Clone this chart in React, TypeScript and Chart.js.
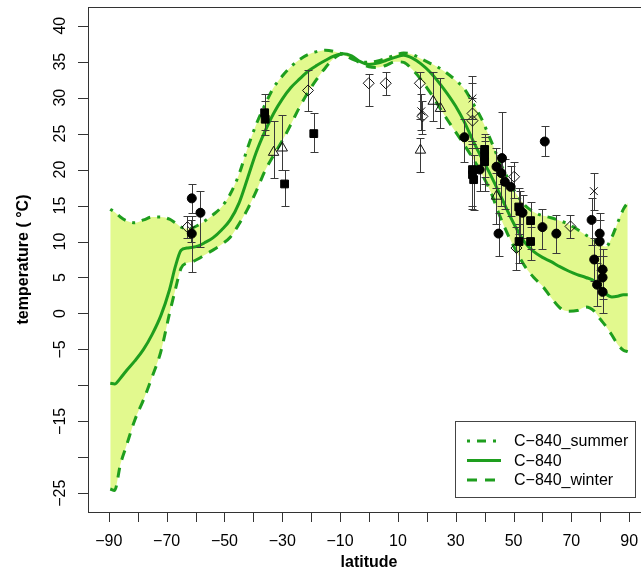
import React, { useEffect, useRef } from "react";
import { Chart, registerables } from "chart.js";

Chart.register(...registerables);

// ---- model curves ----
const latitude = [-89.5, -88, -86, -84, -81, -78, -75, -72, -69, -67, -65, -63, -61, -59, -57, -54, -51, -48, -45, -42, -39, -36, -33, -30, -27, -24, -21, -18, -15, -12, -9, -6, -3, 0, 3, 6, 9, 12, 15, 18, 21, 24, 27, 30, 33, 36, 39, 42, 45, 48, 51, 54, 57, 60, 63, 66, 69, 72, 75, 78, 80, 82, 84, 86, 88, 89.5];
const tempSummer = [14.5, 14.1, 13.4, 12.9, 12.6, 13.0, 13.4, 13.4, 13.1, 12.6, 12.0, 11.8, 11.9, 12.3, 12.8, 13.7, 14.8, 16.6, 19.3, 23.0, 26.3, 29.0, 31.4, 33.0, 34.3, 35.3, 36.0, 36.4, 36.6, 36.4, 36.0, 35.4, 35.0, 34.9, 35.1, 35.5, 35.9, 36.2, 36.0, 35.4, 34.8, 34.2, 33.4, 32.4, 31.2, 29.2, 27.0, 24.2, 21.3, 18.8, 16.6, 15.0, 14.1, 13.6, 13.3, 12.9, 12.4, 11.7, 10.9, 10.2, 9.6, 9.3, 10.6, 12.6, 14.5, 15.4];
const tempMean = [-9.7, -9.8, -9.0, -8.0, -6.6, -5.0, -2.9, -0.3, 3.3, 6.5, 8.8, 9.1, 9.2, 9.4, 9.8, 10.5, 11.6, 13.0, 15.3, 18.8, 22.4, 25.3, 27.8, 29.8, 31.4, 32.6, 33.7, 34.5, 35.2, 35.8, 36.1, 35.8, 35.0, 34.6, 34.8, 35.2, 35.6, 35.9, 35.5, 34.7, 33.6, 32.2, 30.6, 28.8, 26.6, 24.0, 21.6, 19.3, 16.8, 14.2, 11.8, 9.8, 8.6, 7.8, 7.2, 6.5, 5.9, 5.4, 5.0, 4.5, 3.5, 2.7, 2.3, 2.4, 2.6, 2.6];
const tempWinter = [-24.4, -24.6, -21.0, -18.5, -14.8, -12.0, -8.8, -5.3, 0.0, 3.3, 6.3, 7.0, 7.2, 7.6, 8.1, 8.8, 9.6, 10.6, 12.4, 14.5, 17.0, 19.8, 22.0, 24.0, 26.3, 28.7, 30.8, 32.6, 34.2, 35.5, 36.1, 35.6, 34.8, 34.3, 34.2, 34.5, 35.0, 34.9, 33.9, 32.5, 30.8, 28.9, 27.0, 25.2, 23.4, 21.5, 19.4, 17.0, 13.8, 11.0, 8.6, 6.5, 5.0, 3.8, 2.2, 0.8, 0.3, 0.4, 0.9, 0.3, -0.8, -1.8, -3.0, -4.3, -5.1, -5.3];

// ---- proxy data (filled circles) ----
const circleLat = [-61.3, -61.3, -58.3, 33.0, 38.3, 44.1, 46.0, 45.8, 47.0, 49.0, 44.8, 53.1, 60.0, 64.8, 60.8, 77.0, 79.8, 79.8, 77.9, 80.8, 80.8, 78.9, 80.8];
const circleTemp = [16.0, 11.1, 14.0, 24.5, 20.0, 20.4, 21.6, 19.5, 18.3, 17.6, 11.1, 14.0, 12.0, 11.1, 23.9, 13.0, 11.1, 10.0, 7.5, 6.1, 5.0, 4.0, 3.0];
const circleLow = [14.0, 5.8, 9.3, 21.0, 17.0, 17.5, 18.0, 15.0, 14.5, 13.5, 8.0, 10.5, 9.0, 8.4, 21.9, 9.5, 8.0, 6.0, 4.5, 3.0, 2.0, 1.0, 0.0];
const circleHigh = [18.0, 13.5, 17.0, 27.0, 23.0, 23.0, 28.0, 22.0, 21.5, 20.5, 14.0, 16.5, 14.5, 13.7, 26.0, 16.0, 14.0, 13.0, 10.5, 9.0, 8.0, 7.0, 6.0];

// ---- filled squares ----
const squareLat = [-36.1, -35.9, -29.2, -19.1, 35.8, 35.8, 36.2, 40.0, 40.0, 40.0, 51.8, 52.2, 51.9, 55.9, 55.9];
const squareTemp = [27.9, 27.0, 18.0, 25.0, 20.0, 19.3, 18.6, 22.8, 21.8, 21.1, 14.8, 14.2, 10.0, 12.9, 10.0];
const squareLow = [25.5, 24.8, 15.0, 22.5, 15.0, 14.5, 14.4, 19.0, 18.0, 17.0, 11.0, 10.5, 7.0, 9.0, 7.5];
const squareHigh = [30.5, 29.5, 20.0, 27.9, 24.0, 23.0, 22.0, 25.0, 24.5, 24.0, 17.5, 17.0, 12.5, 15.5, 12.0];

// ---- open diamonds ----
const diamondLat = [-62.8, -21.1, -0.1, 5.8, 17.6, 18.5, 35.8, 35.8, 50.2, 51.0, 69.7];
const diamondTemp = [12.0, 31.0, 32.0, 32.0, 32.0, 27.4, 27.8, 26.8, 19.0, 9.1, 12.1];
const diamondLow = [10.5, 28.1, 28.8, 30.4, 27.0, 25.0, 24.0, 23.5, 16.0, 6.0, 10.5];
const diamondHigh = [13.5, 33.9, 33.3, 33.6, 33.6, 29.5, 32.0, 30.0, 21.0, 12.0, 13.7];

// ---- open triangles ----
const triangleLat = [-33.0, -30.0, 17.8, 22.2, 24.7, 44.1];
const triangleTemp = [22.4, 23.0, 22.7, 29.5, 28.5, 16.3];
const triangleLow = [18.8, 20.0, 19.7, 26.7, 25.8, 12.5];
const triangleHigh = [26.7, 27.6, 24.4, 33.6, 32.7, 19.5];

// ---- crosses ----
const crossLat = [-61.5, 18.1, 35.8, 77.8];
const crossTemp = [11.6, 28.1, 29.9, 17.0];
const crossLow = [10.0, 25.5, 27.0, 14.4];
const crossHigh = [13.0, 30.5, 33.0, 19.5];

// ---- axes ----
const xTickValues = [-90, -80, -70, -60, -50, -40, -30, -20, -10, 0, 10, 20, 30, 40, 50, 60, 70, 80, 90];
const xLabelValues = [-90, -70, -50, -30, -10, 10, 30, 50, 70, 90];
const yTickValues = [40, 35, 30, 25, 20, 15, 10, 5, 0, -5, -10, -15, -20, -25];
const yLabelValues = [40, 35, 30, 25, 20, 15, 10, 5, 0, -5, -15, -25];

const GREEN = "#1e9e1e";
const BAND = "#e2f98e";
const FONT = "'Liberation Sans', Arial, Helvetica, sans-serif";

const fmt = (v: number) => (v < 0 ? "\u2212" + Math.abs(v) : String(v));

const pts = (xs: number[], ys: number[]) => xs.map((x, i) => ({ x, y: ys[i] }));

const errorBarPlugin = {
  id: "errorBars",
  beforeDatasetsDraw(chart: any) {
    chart.$errDrawn = false;
  },
  beforeDatasetDraw(chart: any, args: any) {
    const ds = chart.data.datasets[args.index];
    if (chart.$errDrawn || !ds.errLow) return;
    chart.$errDrawn = true;
    const { ctx } = chart;
    const x = chart.scales.x;
    const y = chart.scales.y;
    ctx.save();
    ctx.strokeStyle = "#3a3a3a";
    ctx.lineWidth = 1;
    ctx.beginPath();
    chart.data.datasets.forEach((d: any) => {
      if (!d.errLow) return;
      d.data.forEach((p: any, i: number) => {
        const px = Math.round(x.getPixelForValue(p.x)) + 0.5;
        const y1 = Math.round(y.getPixelForValue(d.errLow[i])) + 0.5;
        const y2 = Math.round(y.getPixelForValue(d.errHigh[i])) + 0.5;
        ctx.moveTo(px, y1);
        ctx.lineTo(px, y2);
        ctx.moveTo(px - 4, y1);
        ctx.lineTo(px + 4, y1);
        ctx.moveTo(px - 4, y2);
        ctx.lineTo(px + 4, y2);
      });
    });
    ctx.stroke();
    ctx.restore();
  },
};

const axesPlugin = {
  id: "rAxes",
  afterDraw(chart: any) {
    const { ctx, chartArea: a } = chart;
    const x = chart.scales.x;
    const y = chart.scales.y;
    ctx.save();
    ctx.strokeStyle = "#333";
    ctx.lineWidth = 1;
    ctx.strokeRect(Math.round(a.left) + 0.5, Math.round(a.top) + 0.5, Math.round(a.right - a.left), Math.round(a.bottom - a.top));
    ctx.beginPath();
    xTickValues.forEach((v) => {
      const px = Math.round(x.getPixelForValue(v)) + 0.5;
      ctx.moveTo(px, a.bottom);
      ctx.lineTo(px, a.bottom + 10);
    });
    yTickValues.forEach((v) => {
      const py = Math.round(y.getPixelForValue(v)) + 0.5;
      ctx.moveTo(a.left, py);
      ctx.lineTo(a.left - 10, py);
    });
    ctx.stroke();

    ctx.fillStyle = "#000";
    ctx.font = `16px ${FONT}`;
    ctx.textAlign = "center";
    ctx.textBaseline = "middle";
    xLabelValues.forEach((v) => {
      ctx.fillText(fmt(v), x.getPixelForValue(v), a.bottom + 30);
    });
    ctx.textBaseline = "alphabetic";
    yLabelValues.forEach((v) => {
      ctx.save();
      ctx.translate(a.left - 23, y.getPixelForValue(v));
      ctx.rotate(-Math.PI / 2);
      ctx.fillText(fmt(v), 0, 0);
      ctx.restore();
    });

    ctx.font = `bold 16px ${FONT}`;
    ctx.textBaseline = "middle";
    ctx.fillText("latitude", (a.left + a.right) / 2, a.bottom + 51);
    ctx.save();
    ctx.translate(28, (a.top + a.bottom) / 2);
    ctx.rotate(-Math.PI / 2);
    ctx.textBaseline = "alphabetic";
    ctx.fillText("temperature ( \u00B0C)", 0, 0);
    ctx.restore();

    // legend
    const lx = 455.5, ly = 421.5, lw = 180, lh = 76;
    ctx.fillStyle = "#fff";
    ctx.fillRect(lx, ly, lw, lh);
    ctx.strokeStyle = "#444";
    ctx.lineWidth = 1;
    ctx.strokeRect(lx, ly, lw, lh);
    const lineSets = chart.data.datasets.filter((d: any) => d.type === "line");
    lineSets.forEach((d: any, i: number) => {
      const ry = 441 + i * 19.5;
      ctx.save();
      ctx.strokeStyle = d.borderColor;
      ctx.lineWidth = d.borderWidth;
      ctx.lineCap = "butt";
      ctx.setLineDash(d.borderDash || []);
      ctx.beginPath();
      ctx.moveTo(467, ry);
      ctx.lineTo(501, ry);
      ctx.stroke();
      ctx.restore();
      ctx.fillStyle = "#000";
      ctx.font = `16px ${FONT}`;
      ctx.textAlign = "left";
      ctx.textBaseline = "middle";
      ctx.fillText(d.label, 514, ry + 1);
    });
    ctx.restore();
  },
};

export default function App() {
  const ref = useRef<HTMLCanvasElement>(null);
  useEffect(() => {
    if (!ref.current) return;
    const markerBase = { type: "scatter", showLine: false, borderColor: "#111", borderWidth: 1, order: 1 };
    const chart = new Chart(ref.current, {
      data: {
        datasets: [
          {
            type: "line",
            label: "C\u2212840_summer",
            data: pts(latitude, tempSummer),
            borderColor: GREEN,
            borderWidth: 3,
            borderDash: [3, 7, 9, 7],
            borderCapStyle: "butt",
            pointRadius: 0,
            cubicInterpolationMode: "monotone",
            fill: { target: 2, above: BAND, below: BAND },
            backgroundColor: BAND,
            order: 2,
          },
          {
            type: "line",
            label: "C\u2212840",
            data: pts(latitude, tempMean),
            borderColor: GREEN,
            borderWidth: 3,
            pointRadius: 0,
            cubicInterpolationMode: "monotone",
            fill: false,
            order: 2,
          },
          {
            type: "line",
            label: "C\u2212840_winter",
            data: pts(latitude, tempWinter),
            borderColor: GREEN,
            borderWidth: 3,
            borderDash: [10, 8],
            borderCapStyle: "butt",
            pointRadius: 0,
            cubicInterpolationMode: "monotone",
            fill: false,
            order: 2,
          },
          {
            ...markerBase,
            label: "circles",
            data: pts(circleLat, circleTemp),
            errLow: circleLow,
            errHigh: circleHigh,
            pointStyle: "circle",
            pointRadius: 4.5,
            backgroundColor: "#000",
            borderColor: "#000",
          },
          {
            ...markerBase,
            label: "squares",
            data: pts(squareLat, squareTemp),
            errLow: squareLow,
            errHigh: squareHigh,
            pointStyle: "rect",
            pointRadius: 5.5,
            backgroundColor: "#000",
            borderColor: "#000",
          },
          {
            ...markerBase,
            label: "diamonds",
            data: pts(diamondLat, diamondTemp),
            errLow: diamondLow,
            errHigh: diamondHigh,
            pointStyle: "rectRot",
            pointRadius: 5.5,
            backgroundColor: "rgba(0,0,0,0)",
          },
          {
            ...markerBase,
            label: "triangles",
            data: pts(triangleLat, triangleTemp),
            errLow: triangleLow,
            errHigh: triangleHigh,
            pointStyle: "triangle",
            pointRadius: 6,
            backgroundColor: "rgba(0,0,0,0)",
          },
          {
            ...markerBase,
            label: "crosses",
            data: pts(crossLat, crossTemp),
            errLow: crossLow,
            errHigh: crossHigh,
            pointStyle: "crossRot",
            pointRadius: 5.5,
            backgroundColor: "rgba(0,0,0,0)",
          },
        ],
      } as any,
      options: {
        animation: false,
        responsive: false,
        devicePixelRatio: 1,
        events: [],
        layout: { padding: { top: 7, right: 20, left: 0, bottom: 0 } },
        plugins: {
          legend: { display: false },
          tooltip: { enabled: false },
          filler: { drawTime: "beforeDatasetsDraw" },
        },
        scales: {
          x: {
            type: "linear",
            min: -97.2,
            max: 97.2,
            grid: { display: false },
            border: { display: false },
            ticks: { display: false },
            afterFit: (s: any) => {
              s.height = 63;
            },
          },
          y: {
            type: "linear",
            min: -27.6,
            max: 42.6,
            grid: { display: false },
            border: { display: false },
            ticks: { display: false },
            afterFit: (s: any) => {
              s.width = 88;
            },
          },
        },
      } as any,
      plugins: [errorBarPlugin, axesPlugin],
    });
    return () => chart.destroy();
  }, []);

  return (
    <div style={{ position: "fixed", left: 0, top: 0, width: 641, height: 575, overflow: "hidden", background: "#fff" }}>
      <canvas ref={ref} width={670} height={575} style={{ display: "block" }} />
    </div>
  );
}
